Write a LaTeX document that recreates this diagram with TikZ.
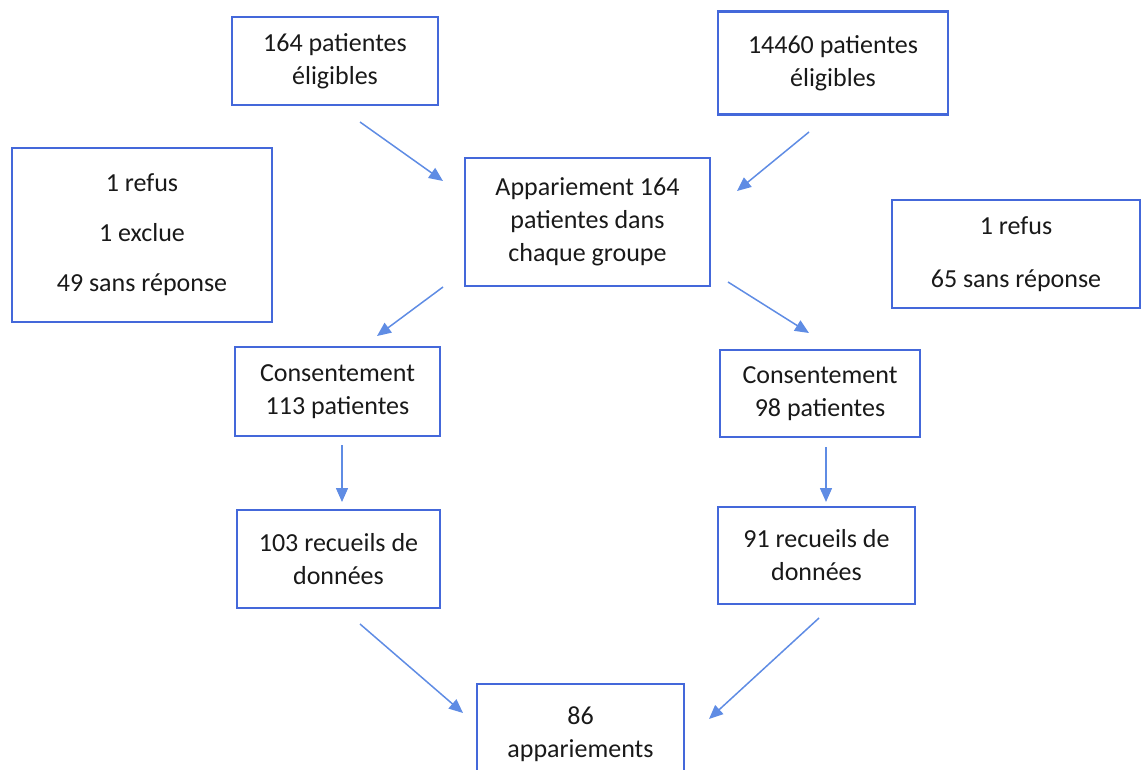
\documentclass[tikz,border=0pt]{standalone}
\usepackage{fontspec}
\setmainfont{Carlito}
\usetikzlibrary{arrows.meta}
\definecolor{boxblue}{RGB}{68,104,218}
\definecolor{arrblue}{RGB}{95,140,228}
\begin{document}
\begin{tikzpicture}[x=1pt,y=-1pt,
  stepbox/.style={draw=boxblue,line width=2.6pt,rectangle,inner sep=0pt,align=center,
    font=\fontsize{26}{33}\selectfont,text=black!90},
  arr/.style={draw=arrblue,line width=1.5pt,-{Triangle[length=14pt,width=12pt]}}]
\useasboundingbox (0,0) rectangle (1145,769);
\node[stepbox,minimum width=206pt,minimum height=88pt] (A) at (335,61) {164 patientes\\éligibles};
\node[stepbox,minimum width=230pt,minimum height=103pt] (B) at (833,63) {14460 patientes\\éligibles};
\node[stepbox,minimum width=260pt,minimum height=174pt] (C) at (142,235) {1 refus\\[17pt]1 exclue\\[17pt]49 sans réponse};
\node[stepbox,minimum width=245pt,minimum height=128pt] (D) at (587.5,222) {Appariement 164\\patientes dans\\chaque groupe};
\node[stepbox,minimum width=248pt,minimum height=108pt] (E) at (1016,254) {1 refus\\[20pt]65 sans réponse};
\node[stepbox,minimum width=205pt,minimum height=89pt] (F) at (337.5,391.5) {Consentement\\113 patientes};
\node[stepbox,minimum width=200pt,minimum height=87pt] (G) at (820,393.5) {Consentement\\98 patientes};
\node[stepbox,minimum width=203pt,minimum height=98pt] (H) at (338.5,559) {103 recueils de\\données};
\node[stepbox,minimum width=197pt,minimum height=97pt] (I) at (816.5,555.5) {91 recueils de\\données};
\node[stepbox,minimum width=207pt,minimum height=100pt] (J) at (580.5,734) {86\\appariements};
\coordinate (a1) at (360,122); \coordinate (a2) at (443,181);
\coordinate (b1) at (809,132); \coordinate (b2) at (737,191);
\coordinate (d1) at (443,287); \coordinate (d2) at (377,336);
\coordinate (e1) at (728,282); \coordinate (e2) at (809,333);
\coordinate (f1) at (342,445); \coordinate (f2) at (342,502);
\coordinate (g1) at (826,447); \coordinate (g2) at (826,502);
\coordinate (h1) at (360,624); \coordinate (h2) at (463,713);
\coordinate (i1) at (819,618); \coordinate (i2) at (709,719);
\draw[arr] (a1) -- (a2);
\draw[arr] (b1) -- (b2);
\draw[arr] (d1) -- (d2);
\draw[arr] (e1) -- (e2);
\draw[arr] (f1) -- (f2);
\draw[arr] (g1) -- (g2);
\draw[arr] (h1) -- (h2);
\draw[arr] (i1) -- (i2);
\end{tikzpicture}
\end{document}
